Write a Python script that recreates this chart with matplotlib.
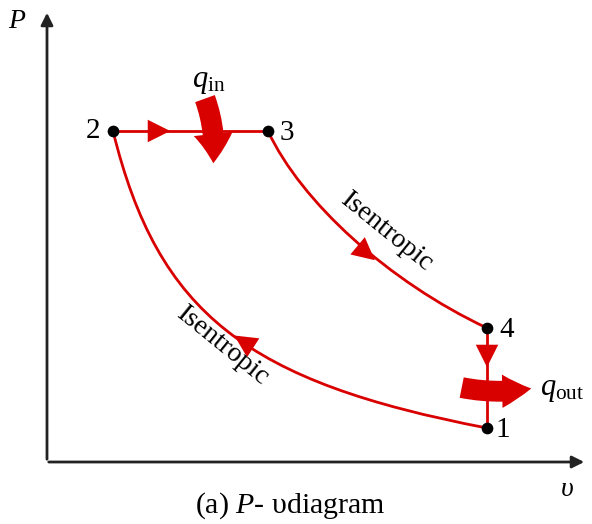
import matplotlib
matplotlib.use("Agg")
import matplotlib.pyplot as plt
from matplotlib.patches import FancyArrowPatch, PathPatch
from matplotlib.path import Path

plt.rcParams["font.family"] = ["Liberation Serif", "DejaVu Serif"]
plt.rcParams["mathtext.fontset"] = "custom"
plt.rcParams["mathtext.rm"] = "Liberation Serif"
plt.rcParams["mathtext.it"] = "Liberation Serif:italic"

RED = "#d90000"

# state points of the cycle (v, P)
state_labels = ["1", "2", "3", "4"]
state_v = [440, 66, 221, 440]
state_P = [34, 331, 331, 134]

# bezier control points for the two isentropic processes
exp_ctrl_v = [254, 342]      # 3 -> 4 expansion
exp_ctrl_P = [260, 180]
comp_ctrl_v = [200, 111]     # 1 -> 2 compression
comp_ctrl_P = [80, 148]

fig = plt.figure(figsize=(5.92, 5.24), dpi=100)
ax = fig.add_axes([0, 0, 1, 1])
ax.set_xlim(-47, 545)
ax.set_ylim(-62, 462)
ax.axis("off")

# axes with arrow heads
ax.annotate("", xy=(0, 452), xytext=(0, 0),
            arrowprops=dict(arrowstyle="-|>", color="#222222", lw=2, mutation_scale=18))
ax.annotate("", xy=(540, 0), xytext=(-1, 0),
            arrowprops=dict(arrowstyle="-|>", color="#222222", lw=2, mutation_scale=18))
ax.text(-30, 440, "P", fontsize=20, style="italic", ha="center", va="center")
ax.text(520, -28, "υ", fontsize=20, style="italic", ha="center", va="center")

# process lines
v1, v2, v3, v4 = state_v
P1, P2, P3, P4 = state_P
ax.plot([v2, v3], [P2, P3], color=RED, lw=2, zorder=2)
ax.plot([v4, v1], [P4, P1], color=RED, lw=2, zorder=2)

codes = [Path.MOVETO, Path.CURVE4, Path.CURVE4, Path.CURVE4]
exp_path = Path([(v3, P3), (exp_ctrl_v[0], exp_ctrl_P[0]),
                 (exp_ctrl_v[1], exp_ctrl_P[1]), (v4, P4)], codes)
comp_path = Path([(v1, P1), (comp_ctrl_v[0], comp_ctrl_P[0]),
                  (comp_ctrl_v[1], comp_ctrl_P[1]), (v2, P2)], codes)
for path in (exp_path, comp_path):
    ax.add_patch(PathPatch(path, facecolor="none", edgecolor=RED, lw=2, zorder=2))

# direction arrows on each process
head = dict(arrowstyle="-|>,head_length=0.9,head_width=0.45", color=RED, lw=0, mutation_scale=18)
ax.annotate("", xy=(126, 331), xytext=(104, 331), arrowprops=head)
ax.annotate("", xy=(330, 200), xytext=(312, 215), arrowprops=head)
ax.annotate("", xy=(440, 92), xytext=(440, 112), arrowprops=head)
ax.annotate("", xy=(185, 128), xytext=(205, 115), arrowprops=head)

# heat in / heat out
q_in = FancyArrowPatch((157, 366), (166, 296), connectionstyle="arc3,rad=-0.12",
                       arrowstyle="simple,tail_width=15,head_width=28,head_length=21",
                       color=RED, lw=0, zorder=3)
q_out = FancyArrowPatch((412, 75), (487, 74), connectionstyle="arc3,rad=0.1",
                        arrowstyle="simple,tail_width=15,head_width=24,head_length=21",
                        color=RED, lw=0, zorder=3)
ax.add_patch(q_in)
ax.add_patch(q_out)
ax.text(162, 380, r"$q_{\mathrm{in}}$", fontsize=22, ha="center", va="center")
ax.text(493, 72, r"$q_{\mathrm{out}}$", fontsize=22, ha="left", va="center")

# state points
ax.scatter(state_v, state_P, s=55, color="black", zorder=4)
offsets = {"1": (16, -2), "2": (-20, 0), "3": (19, -2), "4": (20, -2)}
for lab, v, p in zip(state_labels, state_v, state_P):
    dx, dy = offsets[lab]
    ax.text(v + dx, p + dy, lab, fontsize=21, ha="center", va="center")

ax.text(340, 230, "Isentropic", fontsize=20, rotation=-39, ha="center", va="center",
        rotation_mode="anchor")
ax.text(176, 116, "Isentropic", fontsize=20, rotation=-39, ha="center", va="center",
        rotation_mode="anchor")

ax.text(243, -44, "(a) $P$- υdiagram", fontsize=21.5, ha="center", va="center")

fig.savefig("out.png", dpi=100)
